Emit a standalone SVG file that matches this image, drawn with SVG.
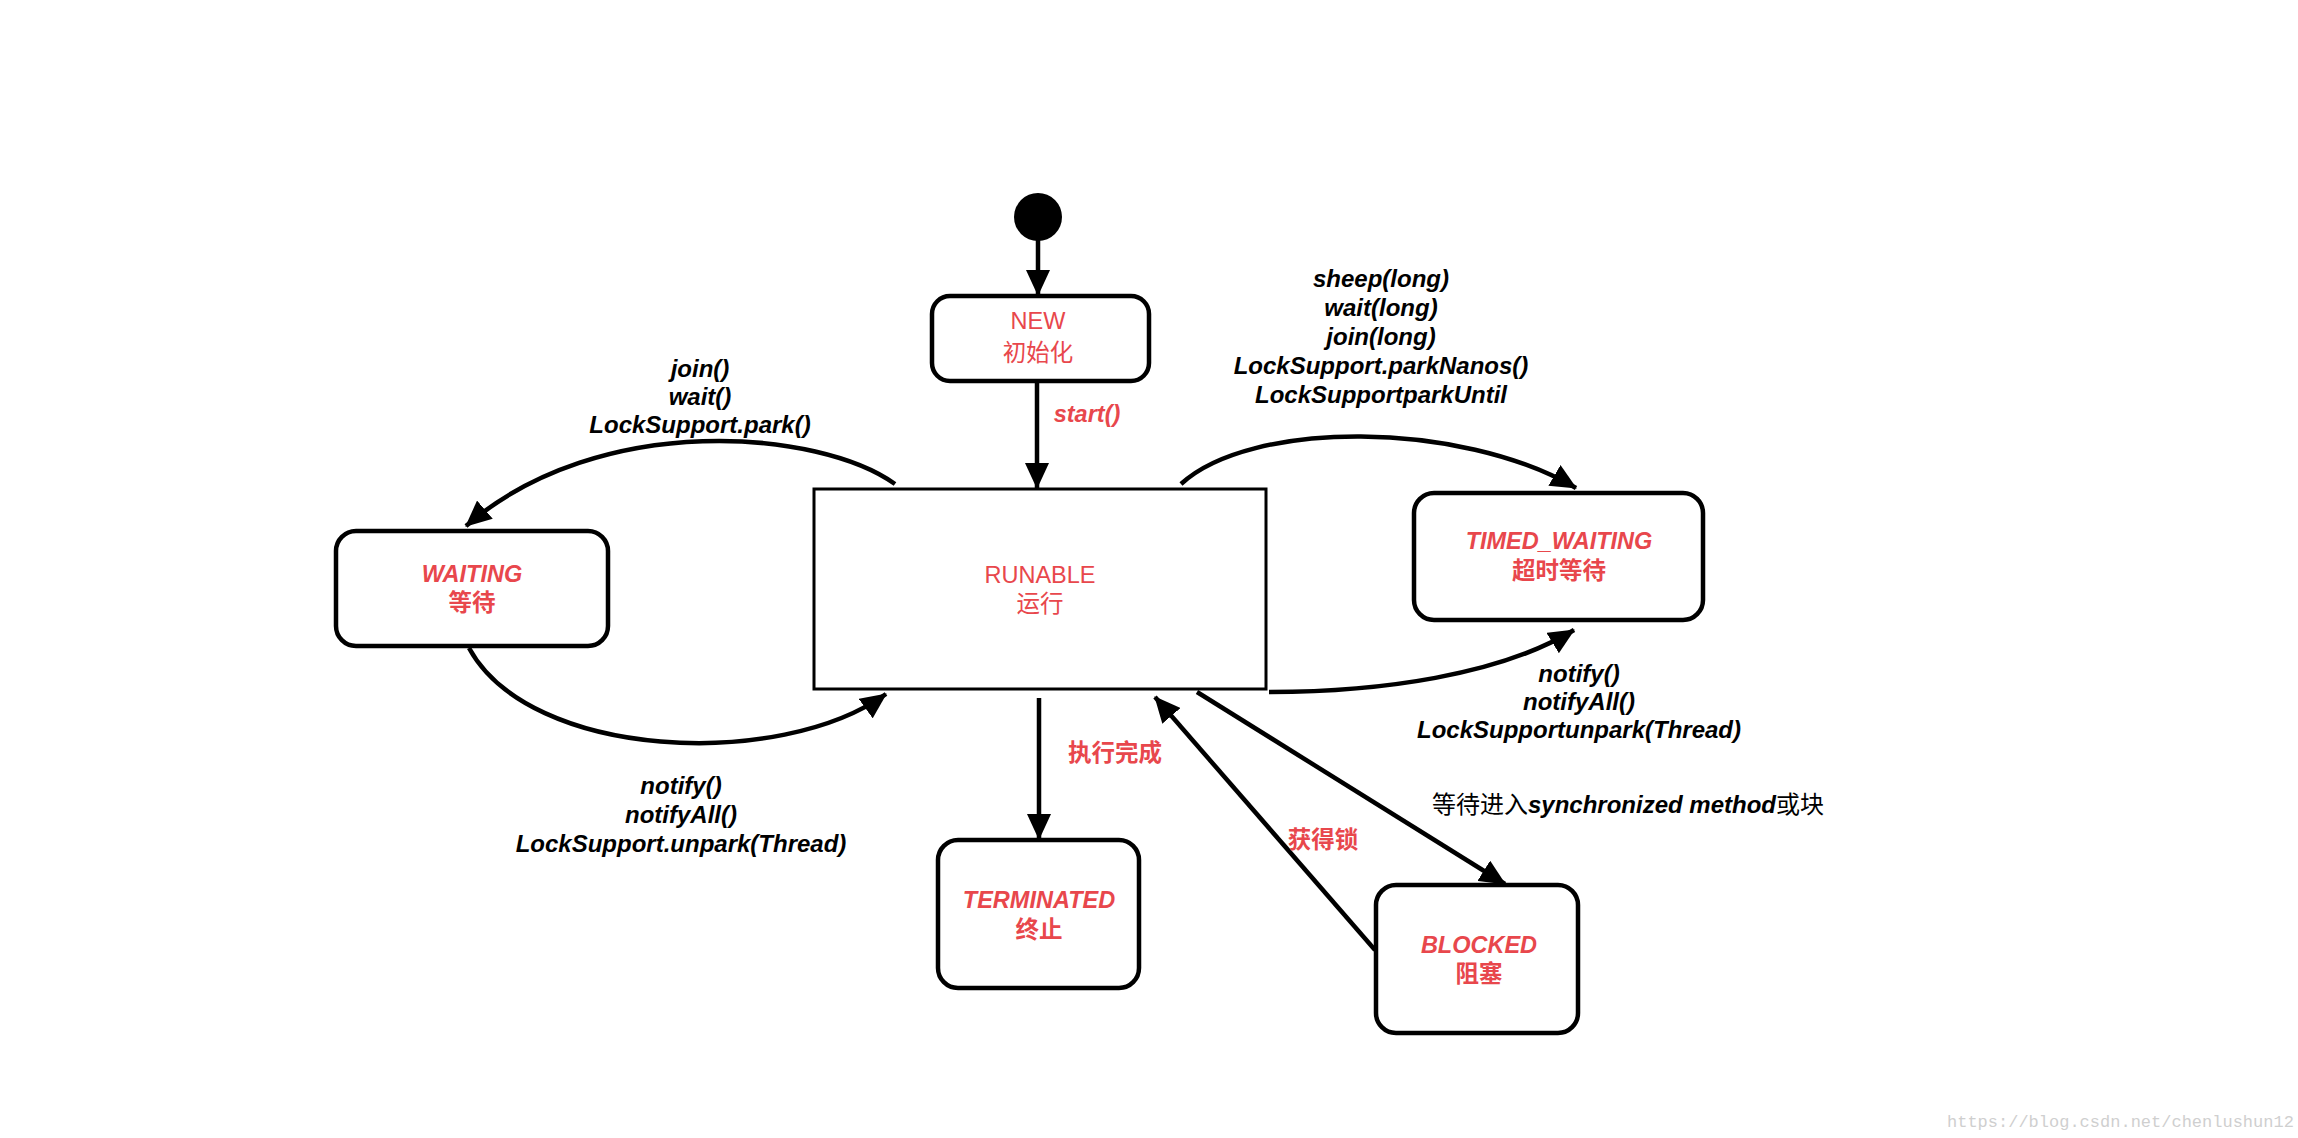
<svg xmlns="http://www.w3.org/2000/svg" width="2298" height="1138" viewBox="0 0 2298 1138">
<style>
.box{fill:#fff;stroke:#000;stroke-width:4.5}
.rbox{fill:#fff;stroke:#000;stroke-width:3}
.edge{fill:none;stroke:#000;stroke-width:4.5}
text{font-family:"Liberation Sans","Noto Sans CJK SC",sans-serif;font-size:23.5px;text-anchor:middle}
.red{fill:#e8474c}
.bi{font-weight:bold;font-style:italic}
.cjkb{font-weight:bold;font-style:normal}
.lbl{fill:#000;font-weight:bold;font-style:italic;font-size:24px}
.wm{font-family:"Liberation Mono",monospace;font-size:17px;fill:#cfcfcf;text-anchor:start}
</style>
<defs>
<marker id="ah" viewBox="0 0 26 24" refX="25" refY="12" markerWidth="26" markerHeight="24" markerUnits="userSpaceOnUse" orient="auto">
<path d="M0,0 L26,12 L0,24 z" fill="#000"/>
</marker>
</defs>
<rect width="2298" height="1138" fill="#fff"/>
<g id="connectors">
<path class="edge" d="M1038,238 L1038,295" marker-end="url(#ah)"/>
<path class="edge" d="M1037,383 L1037,488" marker-end="url(#ah)"/>
<path class="edge" d="M895,484 C820,430 600,410 466,526" marker-end="url(#ah)"/>
<path class="edge" d="M1181,484 C1250,420 1460,420 1576,488" marker-end="url(#ah)"/>
<path class="edge" d="M1269,692 C1380,692 1500,675 1574,630" marker-end="url(#ah)"/>
<path class="edge" d="M469,648 C530,760 780,770 886,694" marker-end="url(#ah)"/>
<path class="edge" d="M1039,698 L1039,839" marker-end="url(#ah)"/>
<path class="edge" d="M1197,692 L1505,884" marker-end="url(#ah)"/>
<path class="edge" d="M1375,950 L1155,697" marker-end="url(#ah)"/>
<text class="red bi" x="1087" y="422">start()</text>
<text class="lbl" x="700" y="377">join()</text>
<text class="lbl" x="700" y="405">wait()</text>
<text class="lbl" x="700" y="433">LockSupport.park()</text>
<text class="lbl" x="1381" y="287">sheep(long)</text>
<text class="lbl" x="1381" y="316">wait(long)</text>
<text class="lbl" x="1381" y="345">join(long)</text>
<text class="lbl" x="1381" y="374">LockSupport.parkNanos()</text>
<text class="lbl" x="1381" y="403">LockSupportparkUntil</text>
<text class="lbl" x="1579" y="682">notify()</text>
<text class="lbl" x="1579" y="710">notifyAll()</text>
<text class="lbl" x="1579" y="738">LockSupportunpark(Thread)</text>
<text class="lbl" x="681" y="794">notify()</text>
<text class="lbl" x="681" y="823">notifyAll()</text>
<text class="lbl" x="681" y="852">LockSupport.unpark(Thread)</text>
<text class="red cjkb" x="1115" y="761">执行完成</text>
<text class="red cjkb" x="1323" y="848">获得锁</text>
<text x="1432" y="813" style="text-anchor:start;fill:#000;font-size:24px">等待进入<tspan style="font-weight:bold;font-style:italic">synchronized method</tspan>或块</text>
</g>
<g id="init">
<circle cx="1038" cy="217" r="24" fill="#000"/>
</g>
<g id="new">
<rect class="box" x="932" y="296" width="217" height="85" rx="18"/>
<text class="red" x="1038" y="329">NEW</text>
<text class="red" x="1038" y="361">初始化</text>
</g>
<g id="runable">
<rect class="rbox" x="814" y="489" width="452" height="200"/>
<text class="red" x="1040" y="583">RUNABLE</text>
<text class="red" x="1040" y="612">运行</text>
</g>
<g id="waiting">
<rect class="box" x="336" y="531" width="272" height="115" rx="20"/>
<text class="red bi" x="472" y="582">WAITING</text>
<text class="red cjkb" x="472" y="611">等待</text>
</g>
<g id="timed_waiting">
<rect class="box" x="1414" y="493" width="289" height="127" rx="20"/>
<text class="red bi" x="1559" y="549">TIMED_WAITING</text>
<text class="red cjkb" x="1559" y="579">超时等待</text>
</g>
<g id="terminated">
<rect class="box" x="938" y="840" width="201" height="148" rx="20"/>
<text class="red bi" x="1039" y="908">TERMINATED</text>
<text class="red cjkb" x="1039" y="938">终止</text>
</g>
<g id="blocked">
<rect class="box" x="1376" y="885" width="202" height="148" rx="20"/>
<text class="red bi" x="1479" y="953">BLOCKED</text>
<text class="red cjkb" x="1479" y="982">阻塞</text>
</g>
<text class="wm" x="1947" y="1127">https://blog.csdn.net/chenlushun12</text>
</svg>
